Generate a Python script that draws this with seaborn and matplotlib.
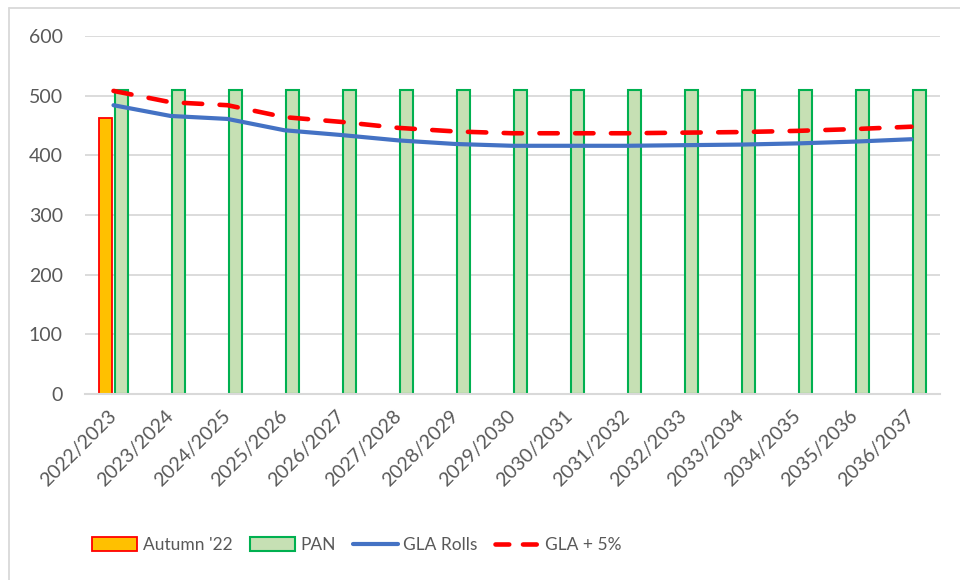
import numpy as np
import pandas as pd
import seaborn as sns
import matplotlib
matplotlib.use("Agg")
import matplotlib.pyplot as plt
from matplotlib.patches import Patch
from matplotlib.lines import Line2D

# School years on the category axis
years = ["2022/2023", "2023/2024", "2024/2025", "2025/2026", "2026/2027",
         "2027/2028", "2028/2029", "2029/2030", "2030/2031", "2031/2032",
         "2032/2033", "2033/2034", "2034/2035", "2035/2036", "2036/2037"]

autumn_22 = [463]                      # only the first year has an Autumn '22 figure
pan = [510] * 15
gla_rolls = [484, 466, 461, 442, 434, 425, 419, 416, 416, 416,
             417, 418, 420, 423, 427]
gla_plus_5 = [508, 489, 484, 464, 456, 446, 440, 437, 437, 437,
              438, 439, 441, 444, 448]

y_ticks = [0, 100, 200, 300, 400, 500, 600]

series_names = ["Autumn '22", "PAN", "GLA Rolls", "GLA + 5%"]
fill_colors = {"Autumn '22": "#FFC000", "PAN": "#C6E0B4"}
edge_colors = {"Autumn '22": "#FF0000", "PAN": "#00B050"}
blue = "#4472C4"
red = "#FF0000"
text_grey = "#595959"
grid_grey = "#D9D9D9"

bars = pd.DataFrame({
    "year": years[:len(autumn_22)] + years,
    "series": [series_names[0]] * len(autumn_22) + [series_names[1]] * len(pan),
    "value": autumn_22 + pan,
})

sns.set_theme(style="white")
plt.rcParams["font.family"] = ["Lato", "DejaVu Sans"]

fig = plt.figure(figsize=(9.6, 5.8), dpi=100)
ax = fig.add_axes([85 / 960, 1 - 394 / 580, 855 / 960, 358 / 580])

sns.barplot(data=bars, x="year", y="value", hue="series",
            order=years, hue_order=series_names[:2],
            palette=fill_colors, saturation=1, width=0.56, gap=0.18,
            errorbar=None, legend=False, ax=ax, zorder=2)
for cont, name in zip(ax.containers, series_names[:2]):
    for p in cont:
        p.set_edgecolor(edge_colors[name])
        p.set_linewidth(1.3 if name == "Autumn '22" else 1.5)

x_pos = np.arange(len(years))
sns.lineplot(x=x_pos, y=gla_rolls, color=blue, linewidth=3.0, ax=ax,
             zorder=3, solid_capstyle="round", solid_joinstyle="round")
sns.lineplot(x=x_pos, y=gla_plus_5, color=red, linewidth=3.3, ax=ax,
             zorder=4, dashes=False)
ax.lines[-1].set_dashes((4.0, 3.8))
ax.lines[-1].set_dash_capstyle("round")

ax.set_xlim(-0.5, len(years) - 0.5)
ax.set_ylim(0, 600)
ax.set_yticks(y_ticks)
ax.set_xlabel("")
ax.set_ylabel("")

ax.yaxis.grid(True, color=grid_grey, linewidth=1.3, zorder=0)
ax.set_axisbelow(True)
for side in ["left", "right", "top"]:
    ax.spines[side].set_visible(False)
ax.spines["bottom"].set_color(grid_grey)
ax.spines["bottom"].set_linewidth(1.5)
ax.spines["bottom"].set_zorder(5)

ax.tick_params(axis="y", length=0, pad=16, labelsize=14, labelcolor=text_grey)
ax.tick_params(axis="x", length=0, pad=14, labelsize=14, labelcolor=text_grey)
ax.set_xticks(x_pos)
ax.set_xticklabels(years, rotation=45, ha="right", va="center",
                   rotation_mode="anchor")

handles = [
    Patch(facecolor=fill_colors["Autumn '22"], edgecolor=edge_colors["Autumn '22"], linewidth=1.3),
    Patch(facecolor=fill_colors["PAN"], edgecolor=edge_colors["PAN"], linewidth=1.5),
    Line2D([], [], color=blue, linewidth=3.0, solid_capstyle="round"),
    Line2D([], [], color=red, linewidth=3.3, dashes=(3.0, 3.0), dash_capstyle="round"),
]
leg = fig.legend(handles, series_names, loc="center",
                 bbox_to_anchor=(357 / 960, 1 - 545 / 580), ncol=4, frameon=False,
                 fontsize=12.5, handlelength=2.6, handleheight=0.8,
                 handletextpad=0.3, columnspacing=1.0)
for t in leg.get_texts():
    t.set_color(text_grey)

# Light frame along the left and top of the chart area
fig.add_artist(Line2D([8.5 / 960, 8.5 / 960], [0, 1 - 7.5 / 580],
                      transform=fig.transFigure, color=grid_grey, linewidth=1.3))
fig.add_artist(Line2D([8.5 / 960, 1], [1 - 7.5 / 580, 1 - 7.5 / 580],
                      transform=fig.transFigure, color=grid_grey, linewidth=1.3))

fig.savefig("out.png", dpi=100, facecolor="white")
